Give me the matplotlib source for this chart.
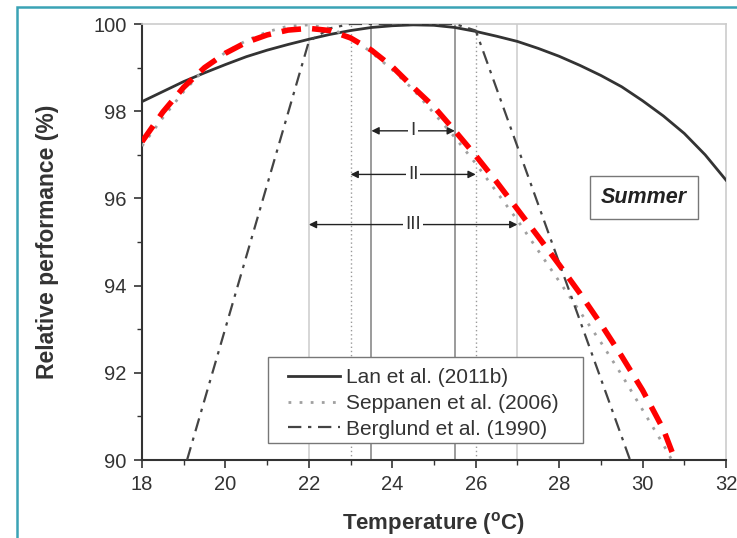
import matplotlib
matplotlib.use("Agg")
import matplotlib.pyplot as plt
from matplotlib.patches import Rectangle
from matplotlib.ticker import MultipleLocator

plt.rcParams['font.family'] = ['Liberation Sans', 'DejaVu Sans']

# ---- data ----
temp = [18, 18.5, 19, 19.5, 20, 20.5, 21, 21.5, 22, 22.5, 23, 23.5, 24, 24.5,
        25, 25.5, 26, 26.5, 27, 27.5, 28, 28.5, 29, 29.5, 30, 30.5, 31, 31.5, 32]
lan = [98.22, 98.45, 98.68, 98.88, 99.07, 99.25, 99.40, 99.53, 99.65, 99.76, 99.85,
       99.92, 99.96, 99.98, 99.97, 99.92, 99.83, 99.72, 99.60, 99.44, 99.26, 99.05,
       98.82, 98.56, 98.24, 97.89, 97.49, 97.00, 96.42]

sep_temp = [18, 18.5, 19, 19.5, 20, 20.5, 21, 21.5, 22, 22.5, 23, 23.5, 24, 24.5,
            25, 25.5, 26, 26.5, 27, 27.5, 28, 28.5, 29, 29.5, 30, 30.5, 30.7]
seppanen = [97.20, 97.85, 98.45, 98.97, 99.35, 99.62, 99.82, 99.95, 99.98, 99.90,
            99.70, 99.35, 98.95, 98.50, 97.95, 97.40, 96.80, 96.15, 95.50, 94.80,
            94.10, 93.40, 92.70, 91.95, 91.15, 90.35, 90.00]

berg_temp = [19.08, 22.0, 22.5, 23.0, 25.5, 26.0, 29.7]
berglund = [90.0, 99.6, 99.9, 100.0, 100.0, 99.85, 90.0]

fit_temp = [18, 18.5, 19, 19.5, 20, 20.5, 21, 21.5, 22, 22.5, 23, 23.5, 24, 24.5,
            25, 25.5, 26, 26.5, 27, 27.5, 28, 28.5, 29, 29.5, 30, 30.5, 30.78]
fit = [97.30, 97.98, 98.55, 99.00, 99.33, 99.58, 99.75, 99.86, 99.90, 99.85, 99.68,
       99.40, 99.02, 98.55, 98.10, 97.55, 96.98, 96.38, 95.75, 95.12, 94.48, 93.82,
       93.12, 92.38, 91.60, 90.70, 90.00]

ranges = ["I", "II", "III"]
range_lo = [23.5, 23.0, 22.0]
range_hi = [25.5, 26.0, 27.0]
range_y = [97.55, 96.55, 95.4]

labels = ["Lan et al. (2011b)", "Seppanen et al. (2006)", "Berglund et al. (1990)"]

# ---- figure ----
fig = plt.figure(figsize=(7.37, 5.38), dpi=100)
ax = fig.add_axes([142 / 737, 1 - 460 / 538, 584 / 737, 436 / 538])

# frame around figure (teal)
fig.patches.append(Rectangle((17 / 737, -0.2), 1.5, 1.2 - 7 / 538,
                             transform=fig.transFigure, fill=False,
                             ec='#3aa3b5', lw=1.8, zorder=0))

# vertical reference lines
for lo, hi, sty in zip(range_lo, range_hi,
                       [dict(color='#8a8a8a', lw=1.2, ls='-'),
                        dict(color='#9a9a9a', lw=1.0, ls=(0, (1, 2))),
                        dict(color='#cfcfcf', lw=1.2, ls='-')]):
    ax.axvline(lo, zorder=1, **sty)
    ax.axvline(hi, zorder=1, **sty)

# range arrows
for name, lo, hi, y in zip(ranges, range_lo, range_hi, range_y):
    ax.annotate('', xy=(hi, y), xytext=(lo, y),
                arrowprops=dict(arrowstyle='<|-|>', color='#222222', lw=1.0,
                                mutation_scale=11, shrinkA=0, shrinkB=0), zorder=3)
    ax.text((lo + hi) / 2, y, name, ha='center', va='center', fontsize=13.5,
            color='#333333', zorder=4,
            bbox=dict(fc='white', ec='none', pad=1.5))

l1, = ax.plot(temp, lan, color='#333333', lw=2.0, zorder=5, label=labels[0])
l2, = ax.plot(sep_temp, seppanen, color='#a0a0a0', lw=2.0, ls=(0, (1, 3)),
              zorder=5, label=labels[1])
l3, = ax.plot(berg_temp, berglund, color='#444444', lw=1.6, ls=(0, (6, 3, 1.5, 3)),
              zorder=5, label=labels[2])
ax.plot(fit_temp, fit, color='#ff0000', lw=4.0, ls=(0, (3.5, 2)), zorder=6)

ax.set_xlim(18, 32)
ax.set_ylim(90, 100)
ax.xaxis.set_major_locator(MultipleLocator(2))
ax.xaxis.set_minor_locator(MultipleLocator(1))
ax.yaxis.set_major_locator(MultipleLocator(2))
ax.yaxis.set_minor_locator(MultipleLocator(1))
ax.tick_params(which='major', direction='out', length=6, width=1.2,
               labelsize=14.5, labelcolor='#333333', color='#333333', pad=5)
ax.tick_params(which='minor', direction='out', length=3.5, width=1.0, color='#333333')

for s in ['left', 'bottom']:
    ax.spines[s].set_color('#333333')
    ax.spines[s].set_linewidth(1.5)
for s in ['top', 'right']:
    ax.spines[s].set_color('#cccccc')
    ax.spines[s].set_linewidth(1.2)

ax.set_xlabel('Temperature ($\\mathregular{^{o}}$C)', fontsize=16, fontweight='bold',
              color='#333333', labelpad=11)
ax.set_ylabel('Relative performance (%)', fontsize=16.5, fontweight='bold',
              color='#333333', labelpad=25)

ax.text(30.04, 96.02, 'Summer', ha='center', va='center', fontsize=15.5,
        fontweight='bold', style='italic', color='#222222', zorder=7,
        bbox=dict(boxstyle='square,pad=0.5', fc='white', ec='#777777', lw=1.0))

# legend with hand-sized frame
ax.add_patch(Rectangle((126 / 584, 17 / 436), 315 / 584, 86 / 436,
                       transform=ax.transAxes, fc='white', ec='#777777',
                       lw=1.0, zorder=8))
leg = ax.legend(handles=[l1, l2, l3], loc='upper left',
                bbox_to_anchor=(146 / 584, 92 / 436), fontsize=15, frameon=False,
                handlelength=2.5, handletextpad=0.3, labelspacing=0.33,
                borderpad=0, borderaxespad=0)
for t in leg.get_texts():
    t.set_color('#333333')
leg.set_zorder(9)

fig.savefig('out.png', dpi=100)
